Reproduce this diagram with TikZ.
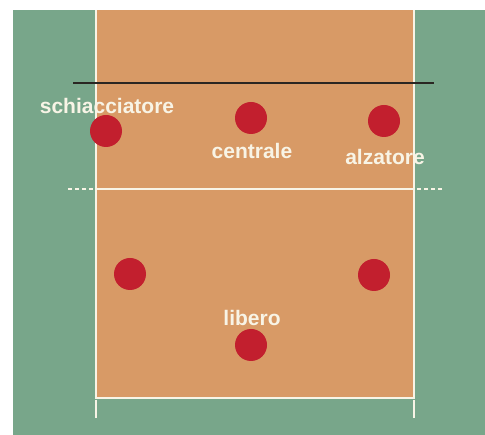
\documentclass[tikz,border=0pt]{standalone}
\usepackage{fontspec}
\setmainfont{Liberation Sans}
\definecolor{courtgreen}{HTML}{78A68A}
\definecolor{courtorange}{HTML}{D89A66}
\definecolor{playerred}{HTML}{C21F2E}
\definecolor{linecream}{HTML}{F8F4E6}
\definecolor{netdark}{HTML}{2A2622}
\tikzset{
  player/.style={circle, fill=playerred, draw=none, minimum size=32pt, inner sep=0pt},
  rolelabel/.style={text=linecream, font=\fontsize{21pt}{22pt}\selectfont\bfseries, inner sep=0pt, anchor=center},
  courtline/.style={draw=linecream, line width=2pt},
}
\begin{document}
\begin{tikzpicture}[x=1pt, y=-1pt]
\useasboundingbox (0,0) rectangle (485,435);
\fill[white] (0,0) rectangle (485,435);
% surround
\fill[courtgreen] (13,10) rectangle (485,435);
% court half
\fill[courtorange] (96,10) rectangle (414,398);
% side and end lines
\draw[courtline] (96,10) -- (96,398) -- (414,398) -- (414,10);
% bottom ticks
\draw[courtline] (96,400) -- (96,418);
\draw[courtline] (414,400) -- (414,418);
% attack line
\draw[courtline] (96,189) -- (414,189);
\draw[courtline, dash pattern=on 4pt off 3pt] (68,189) -- (96,189);
\draw[courtline, dash pattern=on 4pt off 3pt] (442,189) -- (414,189);
% net
\draw[draw=netdark, line width=2pt] (73,83) -- (434,83);
% players
\node[player] (p1) at (106,131) {};
\node[player] (p2) at (251,118) {};
\node[player] (p3) at (384,121) {};
\node[player] (p4) at (130,274) {};
\node[player] (p5) at (374,275) {};
\node[player] (p6) at (251,345) {};
% labels
\node[rolelabel] (l1) at (107,106) {schiacciatore};
\node[rolelabel] (l2) at (252,151) {centrale};
\node[rolelabel] (l3) at (385,157) {alzatore};
\node[rolelabel] (l6) at (252,318) {libero};
\end{tikzpicture}
\end{document}
